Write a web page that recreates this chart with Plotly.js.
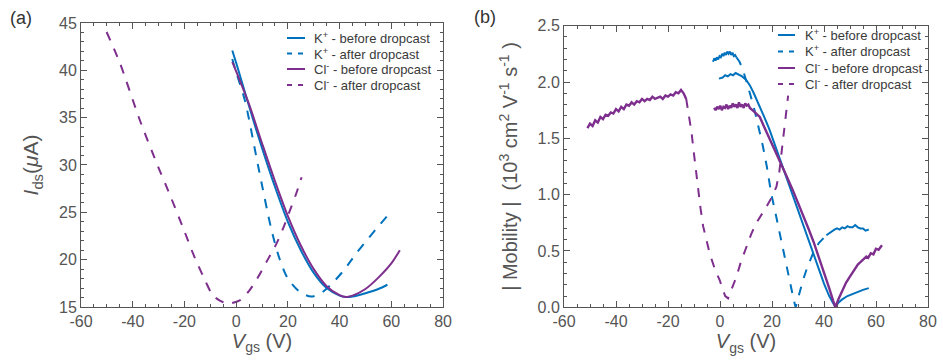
<!DOCTYPE html>
<html><head><meta charset="utf-8">
<script src="https://cdn.plot.ly/plotly-3.0.1.min.js"></script>
<style>html,body{margin:0;padding:0;background:#fff}#chart{width:943px;height:361px}</style>
</head><body><div id="chart"></div>
<script>
// ---------- Panel (a): Ids vs Vgs ----------
const aKBeforeX = [-1.5, 0, 5, 10, 15, 20, 25, 30, 35, 40, 42.5, 45, 50, 55, 58.5];
const aKBeforeY = [42.1, 40.8, 36.2, 31.8, 27.7, 24.0, 21.0, 18.6, 17.0, 16.2, 16.05, 16.1, 16.45, 16.9, 17.35];
const aKAfterX = [-1.5, 0, 3.4, 8.5, 13.7, 16.9, 20, 24.6, 29, 33, 37.5, 42, 46, 50.4, 54, 58.4];
const aKAfterY = [41.2, 39.8, 36.8, 29.9, 23.1, 20.0, 18.0, 16.6, 16.1, 16.5, 17.6, 19.0, 20.5, 22.0, 23.2, 24.6];
const aClBeforeX = [-1.5, 0, 5, 10, 15, 20, 25, 30, 35, 40, 42.5, 45, 50, 55, 60, 63.3];
const aClBeforeY = [40.9, 39.9, 36.4, 32.3, 28.3, 24.6, 21.5, 19.0, 17.2, 16.25, 16.05, 16.2, 16.9, 18.1, 19.6, 21.0];
const aClAfterX = [-50.1, -45, -37.2, -30, -26.9, -20, -16.6, -12, -8.9, -5, -2.4, 1.4, 5, 9.2, 12, 15.6, 18, 20.8, 23, 25.3];
const aClAfterY = [44.05, 40.8, 34.7, 29.7, 27.7, 23.0, 20.6, 17.8, 16.2, 15.5, 15.4, 15.7, 16.7, 18.5, 19.9, 21.7, 23.2, 25.2, 26.8, 28.7];

// ---------- Panel (b): |Mobility| vs Vgs ----------
const bKBeforeX = [-0.4, 1, 2, 3, 4, 5, 6, 7, 8.5, 10, 11.5, 13, 15, 17, 19, 21, 23, 25.5, 28, 30, 32, 34, 36, 38.3, 40, 42, 43.5, 44.4, 45.5, 47, 49, 51, 53, 55, 57.2];
const bKBeforeY = [2.03, 2.04, 2.06, 2.05, 2.07, 2.06, 2.08, 2.07, 2.05, 2.02, 1.97, 1.90, 1.80, 1.69, 1.58, 1.45, 1.32, 1.16, 0.99, 0.86, 0.72, 0.59, 0.46, 0.31, 0.21, 0.10, 0.03, 0.0, 0.04, 0.07, 0.10, 0.12, 0.14, 0.155, 0.17];
const bKAfterNoisyX = [-2.7, -2.2, -1.7, -1.2, -0.7, -0.2, 0.3, 0.8, 1.3, 1.8, 2.3, 2.8, 3.3, 3.8, 4.3, 4.8, 5.3, 5.8, 6.3];
const bKAfterNoisyY = [2.18, 2.21, 2.19, 2.22, 2.20, 2.23, 2.22, 2.25, 2.23, 2.26, 2.24, 2.27, 2.25, 2.27, 2.24, 2.26, 2.23, 2.24, 2.22];
const bKAfterX = [6.3, 7.5, 8.8, 10, 11.5, 13.3, 15, 16.5, 18, 19.7, 21.3, 22.9, 24.5, 26.2, 27.5, 28.5, 29.1, 30, 31.9, 33.5, 35.8, 38, 40.9];
const bKAfterY = [2.22, 2.18, 2.11, 2.02, 1.90, 1.75, 1.59, 1.43, 1.25, 1.01, 0.84, 0.66, 0.49, 0.30, 0.15, 0.05, 0.0, 0.08, 0.24, 0.35, 0.48, 0.57, 0.64];
const bKAfterFlatX = [40.9, 42, 43, 44, 45, 46, 47, 48, 49, 50, 51, 52, 53, 54, 55, 56, 57.2];
const bKAfterFlatY = [0.64, 0.66, 0.68, 0.69, 0.70, 0.69, 0.71, 0.70, 0.72, 0.71, 0.71, 0.73, 0.71, 0.70, 0.70, 0.68, 0.69];
const bClBeforeX = [-2.3, -1.7, -1.1, -0.5, 0.1, 0.7, 1.3, 1.9, 2.5, 3.1, 3.7, 4.3, 4.9, 5.5, 6.1, 6.7, 7.3, 7.9, 8.5, 9.1, 9.7, 10.3, 10.9, 11.5, 13, 15.3, 17, 19.1, 21, 23, 25.5, 28, 30, 31.9, 34, 36, 38.3, 40, 42, 43.5, 44.4, 45.5, 47, 48.5, 49.9, 51, 52, 53, 54, 55, 56.3, 57, 58, 59, 60, 61, 62.3];
const bClBeforeY = [1.77, 1.75, 1.78, 1.76, 1.79, 1.75, 1.78, 1.77, 1.80, 1.76, 1.79, 1.77, 1.81, 1.78, 1.80, 1.77, 1.82, 1.78, 1.80, 1.77, 1.81, 1.79, 1.80, 1.77, 1.74, 1.69, 1.60, 1.49, 1.39, 1.30, 1.17, 1.04, 0.93, 0.83, 0.70, 0.58, 0.43, 0.32, 0.17, 0.06, 0.0, 0.07, 0.15, 0.22, 0.27, 0.31, 0.34, 0.38, 0.40, 0.42, 0.45, 0.44, 0.48, 0.47, 0.52, 0.51, 0.55];
const bClAfterNoisyX = [-51, -50, -49, -48, -47, -46, -45, -44, -43, -42, -41, -40, -39, -38, -37, -36, -35, -34, -33, -32, -31, -30, -29, -28, -27, -26, -25, -24, -23, -22, -21, -20, -19, -18, -17, -16, -15, -14, -13];
const bClAfterNoisyY = [1.59, 1.63, 1.61, 1.66, 1.64, 1.69, 1.67, 1.71, 1.70, 1.73, 1.72, 1.76, 1.74, 1.78, 1.76, 1.80, 1.79, 1.82, 1.80, 1.83, 1.82, 1.85, 1.83, 1.85, 1.84, 1.87, 1.85, 1.86, 1.87, 1.85, 1.88, 1.87, 1.89, 1.88, 1.91, 1.90, 1.93, 1.90, 1.85];
const bClAfterX = [-13, -12, -11, -10, -9, -8.5, -7.5, -6.5, -5, -4, -2, -0.1, 1, 2, 3.1, 4, 5, 6.3, 8, 10.1, 12, 14, 16, 17.8, 19.5, 21.7, 22.8, 23.6, 24.3, 24.9, 25.5, 26.2];
const bClAfterY = [1.85, 1.72, 1.56, 1.36, 1.15, 1.05, 0.88, 0.72, 0.57, 0.48, 0.34, 0.24, 0.16, 0.10, 0.08, 0.13, 0.20, 0.27, 0.40, 0.54, 0.65, 0.75, 0.82, 0.89, 0.96, 1.07, 1.20, 1.37, 1.52, 1.66, 1.78, 1.88];

// ---------- tick labels & legend text ----------
const xTickVals = [-60, -40, -20, 0, 20, 40, 60, 80];
const xTickText = ['-60', '-40', '-20', '0', '20', '40', '60', '80'];
const aYTickVals = [15, 20, 25, 30, 35, 40, 45];
const bYTickVals = [0, 0.5, 1.0, 1.5, 2.0, 2.5];
const bYTickText = ['0.0', '0.5', '1.0', '1.5', '2.0', '2.5'];
const seriesNames = ['K<sup>+</sup> - before dropcast', 'K<sup>+</sup> - after dropcast', 'Cl<sup>-</sup> - before dropcast', 'Cl<sup>-</sup> - after dropcast'];

const BLUE = '#0072BD', PURPLE = '#7E2F8E';
const seriesColors = [BLUE, BLUE, PURPLE, PURPLE];
const seriesDash = ['solid', 'dash', 'solid', 'dash'];

function tr(x, y, color, dash, name, xa, ya, w, shape) {
  return {x: x, y: y, type: 'scatter', mode: 'lines', name: name, xaxis: xa, yaxis: ya,
    showlegend: false, line: {color: color, dash: dash, width: w || 2, shape: shape || 'linear', smoothing: 0.8}};
}
const data = [
  tr(aKBeforeX, aKBeforeY, BLUE, 'solid', seriesNames[0], 'x', 'y', 2, 'spline'),
  tr(aKAfterX, aKAfterY, BLUE, 'dash', seriesNames[1], 'x', 'y', 2, 'spline'),
  tr(aClBeforeX, aClBeforeY, PURPLE, 'solid', seriesNames[2], 'x', 'y', 2, 'spline'),
  tr(aClAfterX, aClAfterY, PURPLE, 'dash', seriesNames[3], 'x', 'y', 2, 'spline'),
  tr(bKBeforeX, bKBeforeY, BLUE, 'solid', seriesNames[0], 'x2', 'y2'),
  tr(bKAfterX, bKAfterY, BLUE, 'dash', seriesNames[1], 'x2', 'y2'),
  tr(bKAfterNoisyX, bKAfterNoisyY, BLUE, 'solid', seriesNames[1], 'x2', 'y2'),
  tr(bKAfterFlatX, bKAfterFlatY, BLUE, 'solid', seriesNames[1], 'x2', 'y2'),
  tr(bClBeforeX, bClBeforeY, PURPLE, 'solid', seriesNames[2], 'x2', 'y2', 2.4),
  tr(bClAfterX, bClAfterY, PURPLE, 'dash', seriesNames[3], 'x2', 'y2'),
  tr(bClAfterNoisyX, bClAfterNoisyY, PURPLE, 'solid', seriesNames[3], 'x2', 'y2', 2.4)
];

const FONT = 'Liberation Sans, Arial, sans-serif';
const AX = '#555';
const tickFont = {family: FONT, size: 16, color: '#555'};
function xaxis(domain, anchor) {
  return {domain: domain, anchor: anchor, range: [-60, 80], tickmode: 'array', tickvals: xTickVals, ticktext: xTickText,
    ticks: 'inside', ticklen: 6, tickcolor: AX, showline: true, linecolor: AX, linewidth: 1, mirror: 'ticks',
    minor: {dtick: 5, tick0: 0, ticks: 'inside', ticklen: 3, tickcolor: AX},
    showgrid: false, zeroline: false, tickfont: tickFont,
    title: {text: '<i>V</i><sub>gs</sub> (V)', font: {family: FONT, size: 20, color: '#555'}, standoff: 0}};
}

// manual legends (compact rows like the reference)
const shapes = [], annotations = [];
function addLegend(x0, x1, xt, rows) {
  rows.forEach((yy, i) => {
    shapes.push({type: 'line', xref: 'paper', yref: 'paper', x0: x0 / 943, x1: x1 / 943, y0: 1 - yy / 361, y1: 1 - yy / 361,
      line: {color: seriesColors[i], width: 2, dash: seriesDash[i] === 'dash' ? '5px,6px' : 'solid'}});
    annotations.push({text: seriesNames[i], xref: 'paper', yref: 'paper', x: xt / 943, y: 1 - yy / 361,
      xanchor: 'left', yanchor: 'middle', showarrow: false, font: {family: FONT, size: 13, color: '#3a3a3a'}});
  });
}
addLegend(287, 305, 312, [38, 53.5, 69, 85]);
addLegend(778, 795, 803, [35, 51.5, 68, 84]);
annotations.push({text: '(a)', xref: 'paper', yref: 'paper', x: 8 / 943, y: 1 - 18 / 361, xanchor: 'left', yanchor: 'middle',
  showarrow: false, font: {family: FONT, size: 18, color: '#333'}});
annotations.push({text: '(b)', xref: 'paper', yref: 'paper', x: 472 / 943, y: 1 - 17 / 361, xanchor: 'left', yanchor: 'middle',
  showarrow: false, font: {family: FONT, size: 18, color: '#333'}});

const layout = {
  width: 943, height: 361, margin: {l: 0, r: 0, t: 0, b: 0},
  paper_bgcolor: '#fff', plot_bgcolor: '#fff', showlegend: false,
  font: {family: FONT, color: '#555'},
  xaxis: xaxis([0.0859, 0.4698], 'y'),
  yaxis: {domain: [0.1496, 0.9363], anchor: 'x', range: [15, 45], tickmode: 'array', tickvals: aYTickVals,
    ticks: 'inside', ticklen: 6, tickcolor: AX, showline: true, linecolor: AX, mirror: 'ticks',
    minor: {dtick: 1, tick0: 15, ticks: 'inside', ticklen: 3, tickcolor: AX},
    showgrid: false, zeroline: false, tickfont: tickFont,
    title: {text: '<i>I</i><sub>ds</sub>(<i>μ</i>A)', font: {family: FONT, size: 21, color: '#555'}, standoff: 14}},
  xaxis2: xaxis([0.5981, 0.9841], 'y2'),
  yaxis2: {domain: [0.1488, 0.9288], anchor: 'x2', range: [0, 2.5], tickmode: 'array', tickvals: bYTickVals, ticktext: bYTickText,
    ticks: 'inside', ticklen: 6, tickcolor: AX, showline: true, linecolor: AX, mirror: 'ticks',
    minor: {dtick: 0.1, tick0: 0, ticks: 'inside', ticklen: 3, tickcolor: AX},
    showgrid: false, zeroline: false, tickfont: tickFont,
    title: {text: '| Mobility |  (10<sup>3</sup> cm<sup>2</sup> V<sup>-1</sup> s<sup>-1</sup> )', font: {family: FONT, size: 20, color: '#555'}, standoff: 14}},
  shapes: shapes,
  annotations: annotations
};
Plotly.newPlot('chart', data, layout, {displayModeBar: false, staticPlot: true});
</script></body></html>
